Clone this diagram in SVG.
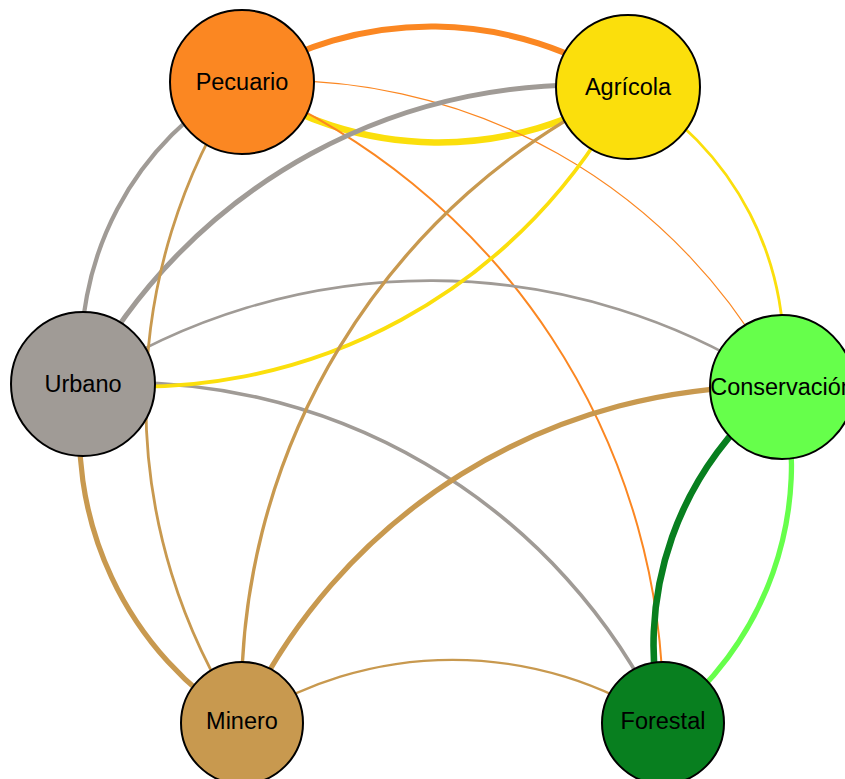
<svg xmlns="http://www.w3.org/2000/svg" width="845" height="779" viewBox="0 0 845 779">
<style>
.e{fill:none;stroke-linecap:butt}
.o{stroke:#FB8722}.y{stroke:#FBDF0C}.g{stroke:#A09B96}.t{stroke:#C8994F}.lg{stroke:#66FF4B}.dg{stroke:#087F1F}
.n{stroke:#000;stroke-width:2}
.lbl{font-family:"Liberation Sans",Arial,sans-serif;font-size:23.5px;fill:#000;text-anchor:middle;dominant-baseline:central}
</style>
<rect width="845" height="779" fill="#fff"/>
<g id="connectors">
<path class="e o" stroke-width="6" d="M242 82 A350.6 350.6 0 0 1 628 87"/>
<path class="e y" stroke-width="6.5" d="M628 87 A350.6 350.6 0 0 1 242 82"/>
<path class="e o" stroke-width="1.2" d="M242 82 A563.3 563.3 0 0 1 782 387"/>
<path class="e o" stroke-width="2" d="M242 82 A680 680 0 0 1 663 723"/>
<path class="e g" stroke-width="4.2" d="M83 384 A310 310 0 0 1 242 82"/>
<path class="e g" stroke-width="5" d="M83 384 A563.8 563.8 0 0 1 628 87"/>
<path class="e g" stroke-width="2.6" d="M83 384 A634.9 634.9 0 0 1 782 387"/>
<path class="e g" stroke-width="3.6" d="M83 384 A595 595 0 0 1 663 723"/>
<path class="e y" stroke-width="3.8" d="M628 87 A550 550 0 0 1 83 384"/>
<path class="e y" stroke-width="2.8" d="M628 87 A306.3 306.3 0 0 1 782 387"/>
<path class="e t" stroke-width="2.8" d="M242 723 A582.2 582.2 0 0 1 242 82"/>
<path class="e t" stroke-width="3.3" d="M242 723 A675.8 675.8 0 0 1 628 87"/>
<path class="e t" stroke-width="5.2" d="M242 723 A340.1 340.1 0 0 1 83 384"/>
<path class="e t" stroke-width="5.2" d="M242 723 A577.7 577.7 0 0 1 782 387"/>
<path class="e t" stroke-width="2.3" d="M242 723 A382.4 382.4 0 0 1 663 723"/>
<path class="e lg" stroke-width="5.3" d="M782 387 A323.8 323.8 0 0 1 663 723"/>
<path class="e dg" stroke-width="6.6" d="M663 723 A323.8 323.8 0 0 1 782 387"/>
</g>
<g id="pecuario"><circle class="n" cx="242" cy="82" r="72" fill="#FB8722"/><text class="lbl" x="242" y="82">Pecuario</text></g>
<g id="agricola"><circle class="n" cx="628" cy="87" r="72" fill="#FBDF0C"/><text class="lbl" x="628" y="87">Agrícola</text></g>
<g id="urbano"><circle class="n" cx="83" cy="384" r="72" fill="#A09B96"/><text class="lbl" x="83" y="384">Urbano</text></g>
<g id="conservacion"><circle class="n" cx="782" cy="387" r="72" fill="#66FF4B"/><text class="lbl" x="782" y="387">Conservación</text></g>
<g id="minero"><circle class="n" cx="242" cy="723" r="61" fill="#C8994F"/><text class="lbl" x="242" y="721">Minero</text></g>
<g id="forestal"><circle class="n" cx="663" cy="723" r="61" fill="#087F1F"/><text class="lbl" x="663" y="721">Forestal</text></g>
</svg>
